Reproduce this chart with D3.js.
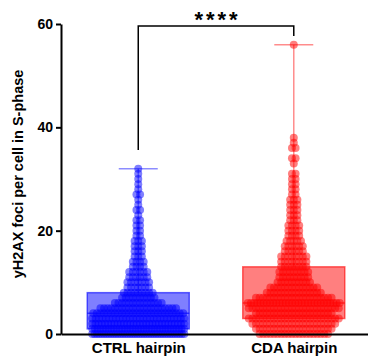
<!DOCTYPE html>
<html>
<head>
<meta charset="utf-8">
<script src="https://cdn.jsdelivr.net/npm/d3@7"></script>
<style>
  body { margin: 0; background: #fff; }
  text { font-family: "Liberation Sans", Arial, sans-serif; font-weight: bold; }
</style>
</head>
<body>
<div id="chart"></div>
<script>
// Groupes et couleurs
const groups = ["CTRL hairpin", "CDA hairpin"];
const groupColors = ["#0000ff", "#ff0000"];

// Nombre de cellules par nombre de foyers (valeur -> effectif)
const ctrlValues = [0, 1, 2, 3, 4, 5, 6, 7, 8, 9, 10, 11, 12, 13, 14, 15, 16, 17, 18, 19, 20, 21, 22, 23, 24, 25, 26, 27, 28, 29, 30, 31, 32];
const ctrlCounts = [40, 35, 30, 28, 26, 22, 14, 10, 9, 7, 7, 6, 6, 4, 4, 3, 3, 3, 3, 2, 2, 2, 2, 1, 2, 1, 1, 2, 1, 1, 1, 1, 1];

const cdaValues = [0, 1, 2, 3, 4, 5, 6, 7, 8, 9, 10, 11, 12, 13, 14, 15, 16, 17, 18, 19, 20, 21, 22, 23, 24, 25, 26, 27, 28, 29, 30, 31, 33, 34, 36, 37, 38, 56];
const cdaCounts = [20, 22, 24, 26, 22, 26, 30, 22, 16, 14, 10, 9, 9, 8, 8, 8, 6, 6, 5, 4, 4, 4, 3, 3, 3, 3, 3, 2, 2, 2, 2, 2, 1, 2, 2, 1, 1, 1];

const yTicks = [0, 20, 40, 60];
const yTitle = "yH2AX foci per cell in S-phase";
const sigLabel = "****";

// Dimensions
const width = 368, height = 361;

const svg = d3.select("#chart").append("svg")
    .attr("width", width)
    .attr("height", height);

const y = d3.scaleLinear().domain([0, 60]).range([334, 24]);
const x = d3.scalePoint().domain(groups).range([61, 368]).padding(0.487).align(0.51);

const r = 4;
const spacing = 3.6;
const maxWidth = 100;
const boxHalf = 51;
const capHalf = 19.5;

function expand(values, counts) {
    const out = [];
    values.forEach((v, i) => { for (let k = 0; k < counts[i]; k++) out.push(v); });
    return out;
}

const series = [
    { name: groups[0], color: groupColors[0], values: ctrlValues, counts: ctrlCounts },
    { name: groups[1], color: groupColors[1], values: cdaValues, counts: cdaCounts }
];

series.forEach(s => {
    const all = expand(s.values, s.counts).sort(d3.ascending);
    const cx = x(s.name);
    const q1 = d3.quantileSorted(all, 0.25);
    const med = d3.quantileSorted(all, 0.5);
    const q3 = d3.quantileSorted(all, 0.75);
    const mx = d3.max(all);

    const g = svg.append("g");

    // Boîte
    g.append("rect")
        .attr("x", cx - boxHalf)
        .attr("y", y(q3))
        .attr("width", boxHalf * 2)
        .attr("height", y(q1) - y(q3))
        .attr("fill", s.color)
        .attr("fill-opacity", 0.5)
        .attr("stroke", s.color)
        .attr("stroke-opacity", 0.6)
        .attr("stroke-width", 1.5);

    g.append("line")
        .attr("x1", cx - boxHalf).attr("x2", cx + boxHalf)
        .attr("y1", y(med)).attr("y2", y(med))
        .attr("stroke", s.color).attr("stroke-opacity", 0.6).attr("stroke-width", 1.5);

    // Points (essaim)
    const pts = [];
    s.values.forEach((v, i) => {
        const n = s.counts[i];
        const sp = n > 1 ? Math.min(spacing, (maxWidth - 2 * r) / (n - 1)) : 0;
        for (let k = 0; k < n; k++) {
            pts.push({ x: cx + (k - (n - 1) / 2) * sp, v: v });
        }
    });

    g.selectAll("circle")
        .data(pts)
        .join("circle")
        .attr("cx", d => d.x)
        .attr("cy", d => y(d.v))
        .attr("r", r)
        .attr("fill", s.color)
        .attr("fill-opacity", 0.5);

    // Moustache
    g.append("line")
        .attr("x1", cx).attr("x2", cx)
        .attr("y1", y(q3)).attr("y2", y(mx))
        .attr("stroke", s.color).attr("stroke-opacity", 0.45).attr("stroke-width", 1.5);
    g.append("line")
        .attr("x1", cx - capHalf).attr("x2", cx + capHalf)
        .attr("y1", y(mx)).attr("y2", y(mx))
        .attr("stroke", s.color).attr("stroke-opacity", 0.45).attr("stroke-width", 1.5);
});

// Axes
const yAxis = svg.append("g")
    .attr("transform", "translate(61,0)")
    .call(d3.axisLeft(y).tickValues(yTicks).tickSize(5).tickSizeOuter(0).tickPadding(3));
yAxis.select(".domain").attr("stroke-width", 2);
yAxis.selectAll(".tick line").attr("stroke-width", 2);
yAxis.selectAll(".tick text").style("font-size", "14px").attr("fill", "#000");

const xAxis = svg.append("g")
    .attr("transform", "translate(0,334)")
    .call(d3.axisBottom(x).tickSize(0).tickSizeOuter(0).tickPadding(8));
xAxis.select(".domain").attr("stroke-width", 2);
xAxis.selectAll(".tick text").style("font-size", "15px").attr("fill", "#000");

// Titre de l'axe Y
svg.append("text")
    .attr("transform", `translate(23,174) rotate(-90)`)
    .attr("text-anchor", "middle")
    .style("font-size", "14.5px")
    .text(yTitle);

// Crochet de significativité
const xa = x(groups[0]), xb = x(groups[1]);
svg.append("path")
    .attr("d", `M${xa},150 V26 H${xb} V36`)
    .attr("fill", "none")
    .attr("stroke", "#000")
    .attr("stroke-width", 1.5);

svg.append("text")
    .attr("x", (xa + xb) / 2 + 1.5)
    .attr("y", 27)
    .attr("text-anchor", "middle")
    .style("font-size", "22px")
    .style("letter-spacing", "3px")
    .text(sigLabel);
</script>
</body>
</html>
